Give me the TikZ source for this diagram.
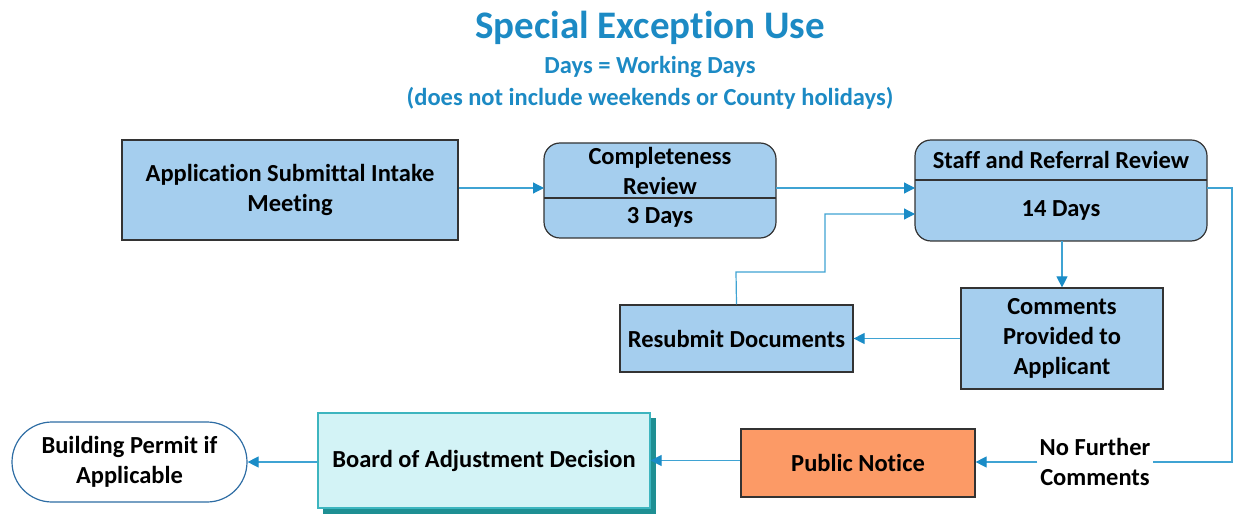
\documentclass[tikz,border=0pt]{standalone}
\usepackage{fontspec}
\setmainfont{Carlito}[RawFeature=-liga]
\usetikzlibrary{arrows.meta,positioning,calc}
\definecolor{boxblue}{HTML}{A5CEEE}
\definecolor{linec}{HTML}{3FA3D3}
\definecolor{arrc}{HTML}{1A8CC7}
\definecolor{titlec}{HTML}{1C8AC4}
\definecolor{cyanfill}{HTML}{D3F3F6}
\definecolor{tealb}{HTML}{3DB5BF}
\definecolor{tealshadow}{HTML}{1E8F93}
\definecolor{orangefill}{HTML}{FC9A66}
\definecolor{permb}{HTML}{2E6DA4}
\tikzset{
  every node/.style={font=\bfseries\fontsize{24.5}{30}\selectfont, text=black},
  sqbox/.style={draw=black!80, line width=1.2pt, fill=boxblue, align=center},
  rbox/.style={draw=black!80, line width=1.2pt, fill=boxblue, rounded corners=16pt},
  conn/.style={draw=linec, line width=1.2pt, -{Triangle[length=11pt,width=11pt,fill=arrc,color=arrc]}},
  plain/.style={draw=linec, line width=1.2pt},
}
\begin{document}
\begin{tikzpicture}[x=1pt,y=-1pt]
\useasboundingbox (0,0) rectangle (1236,518);
% title
\node[font=\bfseries\fontsize{39}{42}\selectfont, text=titlec] (title) at (650,28) {Special Exception Use};
\node[text=titlec] (sub1) at (650,67) {Days = Working Days};
\node[text=titlec] (sub2) at (650,98) {(does not include weekends or County holidays)};

% Application
\node[sqbox, minimum width=336pt, minimum height=100pt] (app) at (290,190) {Application Submittal Intake\\Meeting};

% Completeness (rounded, divided)
\draw[rbox] (544,143) rectangle (776,238);
\draw[draw=black!80, line width=1.2pt] (544,198) -- (776,198);
\coordinate (compW) at (544,188);
\coordinate (compE) at (776,188);
\node (comptext) at (660,170.5) [align=center] {Completeness\\Review};
\node (compdays) at (660,217) {3 Days};

% Staff and Referral (rounded, divided)
\draw[rbox] (915,140) rectangle (1207,241);
\draw[draw=black!80, line width=1.2pt] (915,180) -- (1207,180);
\node (stafftext) at (1061,160) {Staff and Referral Review};
\node (staffdays) at (1061,210) {14 Days};
\coordinate (staffW1) at (915,188);
\coordinate (staffW2) at (915,214);
\coordinate (staffE) at (1207,188);
\coordinate (staffS) at (1062,241);

% Comments
\node[sqbox, minimum width=202pt, minimum height=101pt] (comm) at (1062,338.5) {Comments\\Provided to\\Applicant};

% Resubmit
\node[sqbox, minimum width=233pt, minimum height=67pt] (resub) at (736.5,338.5) {Resubmit Documents};

% Building permit
\node[draw=permb, line width=1.2pt, fill=white, rounded corners=40pt, minimum width=235pt, minimum height=80pt, align=center] (perm) at (129.5,462) {Building Permit if\\Applicable};

% Board
\fill[tealshadow] (323,418) rectangle (656,514);
\node[draw=tealb, line width=1.2pt, fill=cyanfill, minimum width=332pt, minimum height=95pt] (board) at (484,460.5) {Board of Adjustment Decision};

% Public notice
\node[draw=black!80, line width=1.2pt, fill=orangefill, minimum width=234pt, minimum height=68pt] (pub) at (858,463) {Public Notice};

% No further comments label
\node[align=center, inner sep=2pt] (nfc) at (1095,462) {No Further\\Comments};
\coordinate (rt) at (1232,188);
\coordinate (rb) at (1232,462);

% connectors
\draw[conn] (app.east |- compW) -- (compW);
\draw[conn] (compE) -- (staffW1);
\draw[conn] (staffS) -- (comm.north);
\draw[conn] (comm.west |- resub.east) -- (resub.east);
\coordinate (r1) at (736,272);
\coordinate (r2) at (825,272);
\coordinate (r3) at (825,214);
\draw[conn] (resub.north) -- (r1) -- (r2) -- (r3) -- (staffW2);
\draw[plain] (staffE) -- (rt) -- (rb) -- (nfc.east |- rb);
\draw[conn] (nfc.west |- rb) -- (pub.east |- rb);
\draw[conn] (pub.west |- board.east) -- (board.east);
\draw[conn] (board.west |- perm.east) -- (perm.east);
\end{tikzpicture}
\end{document}
